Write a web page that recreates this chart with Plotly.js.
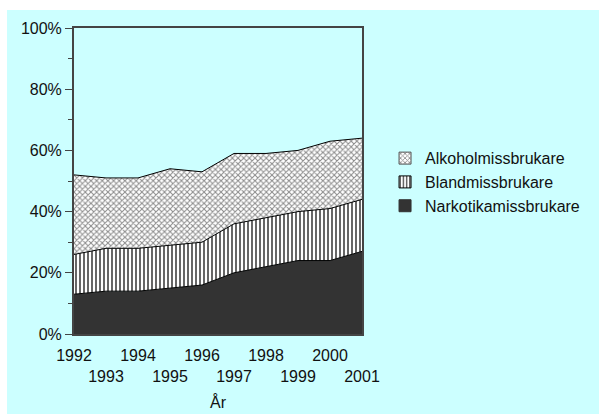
<!DOCTYPE html>
<html>
<head>
<meta charset="utf-8">
<script src="https://cdn.plot.ly/plotly-3.0.1.min.js"></script>
<style>
  html, body { margin: 0; padding: 0; background: #ffffff; }
  #chart { position: absolute; left: 7px; top: 10px; width: 592px; height: 404px; }
</style>
</head>
<body>
<div id="chart"></div>
<script>
const years = [1992, 1993, 1994, 1995, 1996, 1997, 1998, 1999, 2000, 2001];
const narkotika = [13, 14, 14, 15, 16, 20, 22, 24, 24, 27];
const bland = [13, 14, 14, 14, 14, 16, 16, 16, 17, 17];
const alkohol = [26, 23, 23, 25, 23, 23, 21, 20, 22, 20];
const seriesNames = ['Narkotikamissbrukare', 'Blandmissbrukare', 'Alkoholmissbrukare'];
const yTickVals = [0, 20, 40, 60, 80, 100];
const yTickText = ['0%', '20%', '40%', '60%', '80%', '100%'];
const xTickText = years.map((y, i) => (i % 2 === 0 ? String(y) : '<br>' + y));

const lineStyle = { color: '#000000', width: 1 };
const patBland = { shape: '|', fgcolor: '#000000', bgcolor: '#ffffff', size: 4, solidity: 0.3 };
const patAlk = { shape: 'x', fgcolor: '#8c8c8c', bgcolor: '#ffffff', size: 4, solidity: 0.45 };

const traces = [
  {
    x: years, y: narkotika, name: seriesNames[0], type: 'scatter', mode: 'lines',
    stackgroup: 'one', line: lineStyle, fillcolor: '#333333', showlegend: false
  },
  {
    x: years, y: bland, name: seriesNames[1], type: 'scatter', mode: 'lines',
    stackgroup: 'one', line: lineStyle, fillcolor: '#ffffff', fillpattern: patBland, showlegend: false
  },
  {
    x: years, y: alkohol, name: seriesNames[2], type: 'scatter', mode: 'lines',
    stackgroup: 'one', line: lineStyle, fillcolor: '#ffffff', fillpattern: patAlk, showlegend: false
  }
];
// legend swatches: zero-height bars on a hidden overlay axis pair (clipped, not visible)
const swatchStyles = [
  { color: '#333333', line: { color: '#333333', width: 1 } },
  { color: '#ffffff', pattern: patBland, line: { color: '#000000', width: 1 } },
  { color: '#ffffff', pattern: patAlk, line: { color: '#555555', width: 1 } }
];
[2, 1, 0].forEach((i) => {
  traces.push({ type: 'bar', x: [years[0]], y: [0], name: seriesNames[i], legendgroup: 'g' + i,
    xaxis: 'x2', yaxis: 'y2', marker: swatchStyles[i], hoverinfo: 'skip' });
});

const layout = {
  width: 592, height: 404,
  paper_bgcolor: '#ccffff', plot_bgcolor: '#ccffff',
  margin: { l: 67, r: 237, t: 18, b: 80 },
  font: { family: 'Arial, Liberation Sans, sans-serif', size: 16, color: '#111111' },
  showlegend: true,
  legend: {
    x: 1.08, y: 0.63, xanchor: 'left', yanchor: 'top',
    traceorder: 'grouped', bgcolor: 'rgba(0,0,0,0)',
    font: { size: 16, color: '#111111' }, itemwidth: 30, tracegroupgap: 0
  },
  xaxis: {
    range: [1992, 2001], tickvals: years, ticktext: xTickText, tickangle: 0,
    ticks: '', showgrid: false, zeroline: false, ticklabelstandoff: 6,
    showline: true, linecolor: '#444444', mirror: true, linewidth: 2,
    tickfont: { size: 16 },
    title: { text: 'År', font: { size: 16 }, standoff: 13 }
  },
  yaxis: {
    range: [0, 100], tickvals: yTickVals, ticktext: yTickText,
    ticks: 'outside', ticklen: 7, tickcolor: '#444444',
    minor: { tickvals: [10, 30, 50, 70, 90], ticks: 'outside', ticklen: 4, tickcolor: '#444444', showgrid: false },
    showgrid: false, zeroline: false,
    showline: true, linecolor: '#444444', mirror: true, linewidth: 2,
    tickfont: { size: 16 }
  },
  xaxis2: { overlaying: 'x', visible: false, range: [0, 1], fixedrange: true },
  yaxis2: { overlaying: 'y', visible: false, range: [10, 20], fixedrange: true }
};

Plotly.newPlot('chart', traces, layout, { displayModeBar: false, staticPlot: true });
</script>
</body>
</html>
